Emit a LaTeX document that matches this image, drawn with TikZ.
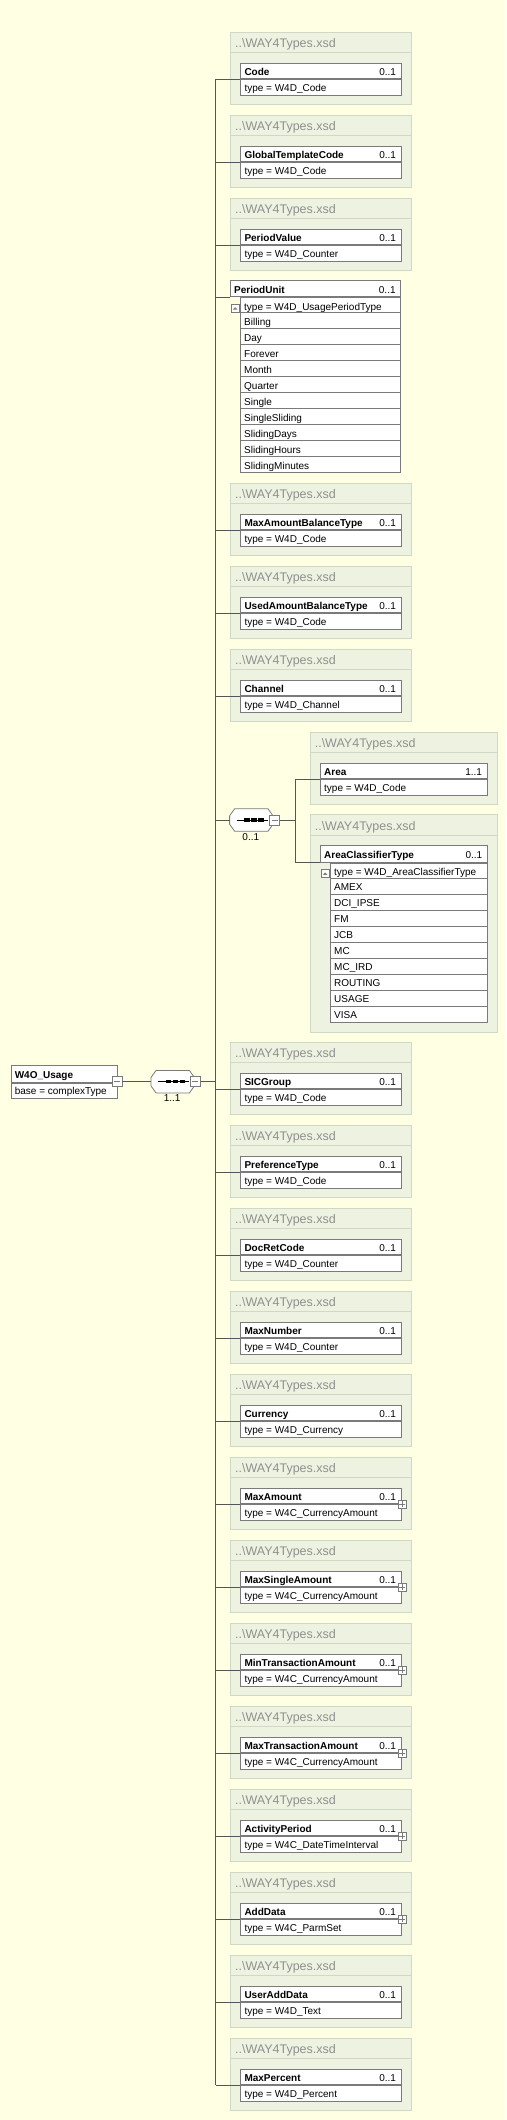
\documentclass[tikz,border=0pt]{standalone}
\usepackage{fontspec}
\setmainfont{Liberation Sans}
\definecolor{bgc}{HTML}{FFFFE3}
\definecolor{grpfill}{HTML}{EEF3E1}
\definecolor{grpborder}{HTML}{CFD9C3}
\definecolor{titlec}{HTML}{8F8F8F}
\definecolor{elborder}{HTML}{7A7A7A}
\definecolor{connc}{HTML}{555555}

% group: id, left, top, width, name, type, multiplicity
\newcommand\xgroup[7]{%
  \pgfmathsetmacro\ew{#4-20}%
  \node[grp, minimum width=#4pt, anchor=north west] (g#1) at (#2,#3) {};
  \draw[grpsep] ([yshift=-20.6pt]g#1.north west) -- ([yshift=-20.6pt]g#1.north east);
  \node[title, anchor=base west] (t#1) at ([xshift=4.6pt,yshift=-16pt]g#1.north west) {..\textbackslash WAY4Types.xsd};
  \node[elhead, minimum width=\ew pt, anchor=north west] (h#1) at ([xshift=10pt,yshift=-31pt]g#1.north west) {};
  \node[elrow, minimum width=\ew pt, anchor=north] (r#1) at (h#1.south) {};
  \node[nm, anchor=base west] (n#1) at ([xshift=4pt,yshift=3.9pt]h#1.south west) {#5};
  \node[txt, anchor=base east] (m#1) at ([xshift=-5.3pt,yshift=3.9pt]h#1.south east) {#7};
  \node[txt, anchor=base west] (y#1) at ([xshift=4pt,yshift=3.9pt]r#1.south west) {type = #6};
}
% plus button on an element
\newcommand\xplus[1]{%
  \node[btn, minimum size=8.3pt] (p#1) at ([xshift=0.5pt]h#1.south east) {};
  \draw[btnline] ([xshift=-2.6pt]p#1.center) -- ([xshift=2.6pt]p#1.center);
  \draw[btnline] ([yshift=-2.6pt]p#1.center) -- ([yshift=2.6pt]p#1.center);
}
% minus button: id, position
\newcommand\xminus[2]{%
  \node[btn, minimum size=10pt] (#1) at (#2) {};
  \draw[btnline] ([xshift=-3pt]#1.center) -- ([xshift=3pt]#1.center);
}
% sequence compositor: id, cx, cy, label
\newcommand\xoct[4]{%
  \node[inner sep=0pt, minimum width=43pt, minimum height=22pt] (#1) at (#2,#3) {};
  \draw[draw=elborder, fill=white, line width=0.8pt] ([xshift=5pt]#1.north west) -- ([xshift=-5pt]#1.north east) -- ([yshift=-7pt]#1.north east) -- ([yshift=7pt]#1.south east) -- ([xshift=-5pt]#1.south east) -- ([xshift=5pt]#1.south west) -- ([yshift=7pt]#1.south west) -- ([yshift=-7pt]#1.north west) -- cycle;
  \draw[black, line width=0.9pt] ([xshift=-14.4pt]#1.center) -- ([xshift=16.5pt]#1.center);
  \foreach \dx in {-4.2,2.8,9.8} \fill[black] ([xshift=\dx pt]#1.center) ++(-2.75,-1.6) rectangle ++(5.5,3.2);
  \node[txt, anchor=base] (l#1) at ([xshift=-0.5pt,yshift=-20pt]#1.center) {#4};
}
% enumerated element: id, hleft, htop, hwidth, name, type, items
\newcommand\xenum[7]{%
  \pgfmathsetmacro\rw{#4-10}%
  \node[elhead, minimum width=#4pt, minimum height=16.4pt, anchor=north west] (h#1) at (#2,#3) {};
  \node[nm, anchor=base west] (n#1) at ([xshift=4pt,yshift=4.2pt]h#1.south west) {#5};
  \node[txt, anchor=base east] (m#1) at ([xshift=-5.3pt,yshift=4.2pt]h#1.south east) {0..1};
  \node[elrow, minimum width=\rw pt, anchor=north east] (r#1) at (h#1.south east) {};
  \node[txt, anchor=base west] (y#1) at ([xshift=4pt,yshift=3.9pt]r#1.south west) {type = #6};
  \node[btn, minimum size=8pt, anchor=north west] (b#1) at ([xshift=0.8pt,yshift=-6.4pt]h#1.south west) {};
  \fill[elborder] ([xshift=-2.2pt,yshift=-1.6pt]b#1.center) -- ([xshift=2.2pt,yshift=-1.6pt]b#1.center) -- ([yshift=0.8pt]b#1.center) -- cycle;
  \foreach \itm [count=\i] in {#7} {
    \pgfmathsetmacro\yy{#3+16.4+16*\i}
    \node[elrow, minimum width=\rw pt, anchor=north west] (e#1\i) at (#2+10,\yy) {};
    \node[txt, anchor=base west] (f#1\i) at ([xshift=4pt,yshift=3.9pt]e#1\i.south west) {\itm};
  }
}

\begin{document}
\begin{tikzpicture}[x=1pt,y=-1pt,
  grp/.style={rectangle, draw=grpborder, fill=grpfill, line width=0.8pt, inner sep=0pt, minimum height=72.5pt},
  grpsep/.style={draw=grpborder, line width=0.8pt},
  title/.style={inner sep=0pt, text=titlec, font=\fontsize{12.5}{14}\selectfont},
  elhead/.style={rectangle, draw=elborder, fill=white, line width=0.8pt, inner sep=0pt, minimum height=15.5pt},
  elrow/.style={rectangle, draw=elborder, fill=white, line width=0.8pt, inner sep=0pt, minimum height=16pt},
  nm/.style={inner sep=0pt, font=\fontsize{10}{12}\selectfont\bfseries},
  txt/.style={inner sep=0pt, font=\fontsize{10}{12}\selectfont},
  conn/.style={draw=connc, line width=0.8pt},
  btn/.style={rectangle, draw=elborder, fill=white, line width=0.7pt, inner sep=0pt},
  btnline/.style={draw=elborder, line width=0.8pt}]
\fill[bgc] (0,0) rectangle (506,2120);
\useasboundingbox (0,0) rectangle (506,2120);
\coordinate (bus) at (215.7,0);
\coordinate (cbus) at (295,0);

% upper elements
\xgroup{Code}{230.3}{31.7}{180.4}{Code}{W4D\_Code}{0..1}
\xgroup{GTC}{230.3}{114.7}{180.4}{GlobalTemplateCode}{W4D\_Code}{0..1}
\xgroup{PV}{230.3}{197.7}{180.4}{PeriodValue}{W4D\_Counter}{0..1}
\xenum{PU}{230}{280}{170.3}{PeriodUnit}{W4D\_UsagePeriodType}{Billing,Day,Forever,Month,Quarter,Single,SingleSliding,SlidingDays,SlidingHours,SlidingMinutes}
\xgroup{MABT}{230.3}{482.7}{180.4}{MaxAmountBalanceType}{W4D\_Code}{0..1}
\xgroup{UABT}{230.3}{565.7}{180.4}{UsedAmountBalanceType}{W4D\_Code}{0..1}
\xgroup{Ch}{230.3}{648.7}{180.4}{Channel}{W4D\_Channel}{0..1}

% choice branch
\xgroup{Area}{310}{731.7}{186.7}{Area}{W4D\_Code}{1..1}
\node[grp, minimum width=186.7pt, minimum height=217.4pt, anchor=north west] (gACT) at (310,814.3) {};
\draw[grpsep] ([yshift=-20.6pt]gACT.north west) -- ([yshift=-20.6pt]gACT.north east);
\node[title, anchor=base west] (tACT) at ([xshift=4.6pt,yshift=-16pt]gACT.north west) {..\textbackslash WAY4Types.xsd};
\xenum{ACT}{320}{845.3}{167}{AreaClassifierType}{W4D\_AreaClassifierType}{AMEX,DCI\_IPSE,FM,JCB,MC,MC\_IRD,ROUTING,USAGE,VISA}
\xoct{choice}{251.3}{820}{0..1}
\xminus{chbtn}{274.7,820}

% lower elements
\xgroup{SIC}{230.3}{1041.7}{180.4}{SICGroup}{W4D\_Code}{0..1}
\xgroup{Pref}{230.3}{1124.7}{180.4}{PreferenceType}{W4D\_Code}{0..1}
\xgroup{Doc}{230.3}{1207.7}{180.4}{DocRetCode}{W4D\_Counter}{0..1}
\xgroup{MaxN}{230.3}{1290.7}{180.4}{MaxNumber}{W4D\_Counter}{0..1}
\xgroup{Cur}{230.3}{1373.7}{180.4}{Currency}{W4D\_Currency}{0..1}
\xgroup{MaxA}{230.3}{1456.7}{180.4}{MaxAmount}{W4C\_CurrencyAmount}{0..1}
\xplus{MaxA}
\xgroup{MaxSA}{230.3}{1539.7}{180.4}{MaxSingleAmount}{W4C\_CurrencyAmount}{0..1}
\xplus{MaxSA}
\xgroup{MinTA}{230.3}{1622.7}{180.4}{MinTransactionAmount}{W4C\_CurrencyAmount}{0..1}
\xplus{MinTA}
\xgroup{MaxTA}{230.3}{1705.7}{180.4}{MaxTransactionAmount}{W4C\_CurrencyAmount}{0..1}
\xplus{MaxTA}
\xgroup{AP}{230.3}{1788.7}{180.4}{ActivityPeriod}{W4C\_DateTimeInterval}{0..1}
\xplus{AP}
\xgroup{AD}{230.3}{1871.7}{180.4}{AddData}{W4C\_ParmSet}{0..1}
\xplus{AD}
\xgroup{UAD}{230.3}{1954.7}{180.4}{UserAddData}{W4D\_Text}{0..1}
\xgroup{MP}{230.3}{2037.7}{180.4}{MaxPercent}{W4D\_Percent}{0..1}

% root and sequence
\node[elhead, minimum width=105.7pt, minimum height=16.7pt, anchor=north west] (rooth) at (11,1065) {};
\node[elrow, minimum width=105.7pt, minimum height=15.6pt, anchor=north] (rootr) at (rooth.south) {};
\node[nm, anchor=base west] (rootn) at ([xshift=3.6pt,yshift=4.2pt]rooth.south west) {W4O\_Usage};
\node[txt, anchor=base west] (rootb) at ([xshift=3.6pt,yshift=4.2pt]rootr.south west) {base = complexType};
\xoct{seq}{172.7}{1081.7}{1..1}
\xminus{rootbtn}{117,1081.7}
\xminus{seqbtn}{195.3,1081.7}

% connectors
\draw[conn] (rootbtn.east) -- (seq.west |- rootbtn.east);
\draw[conn] (seqbtn.east) -- (bus |- seqbtn.east);
\draw[conn] (bus |- hCode.south west) -- (bus |- hMP.south west);
\foreach \g in {Code,GTC,PV,PU,MABT,UABT,Ch,SIC,Pref,Doc,MaxN,Cur,MaxA,MaxSA,MinTA,MaxTA,AP,AD,UAD,MP}
  \draw[conn] (bus |- h\g.south west) -- (h\g.south west);
\draw[conn] (bus |- choice.west) -- (choice.west);
\draw[conn] (chbtn.east) -- (cbus |- chbtn.east);
\draw[conn] (cbus |- hArea.south west) -- (cbus |- hACT.south west);
\draw[conn] (cbus |- hArea.south west) -- (hArea.south west);
\draw[conn] (cbus |- hACT.south west) -- (hACT.south west);
\end{tikzpicture}
\end{document}
